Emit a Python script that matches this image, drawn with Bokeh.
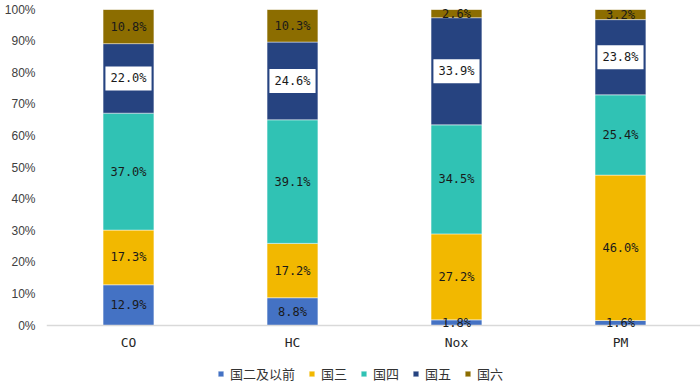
from bokeh.plotting import figure
from bokeh.models import (ColumnDataSource, Range1d, FixedTicker, PrintfTickFormatter,
                          Legend, LegendItem, LinearAxis)
from bokeh.core.properties import value
from bokeh.embed import file_html
from bokeh.resources import INLINE

categories = ["CO", "HC", "Nox", "PM"]
series = ["国二及以前", "国三", "国四", "国五", "国六"]
guo2 = [12.9, 8.8, 1.8, 1.6]
guo3 = [17.3, 17.2, 27.2, 46.0]
guo4 = [37.0, 39.1, 34.5, 25.4]
guo5 = [22.0, 24.6, 33.9, 23.8]
guo6 = [10.8, 10.3, 2.6, 3.2]
y_ticks = [0, 10, 20, 30, 40, 50, 60, 70, 80, 90, 100]

colors = ["#4472C4", "#F2B800", "#30C2B4", "#264380", "#8C6D00"]
values = [guo2, guo3, guo4, guo5, guo6]

xs = [i + 0.5 for i in range(len(categories))]
data = {"x": xs}
for name, vals in zip(series, values):
    data[name] = vals
src = ColumnDataSource(data)

p = figure(width=700, height=387, output_backend="svg", toolbar_location=None,
           x_range=Range1d(0, 3.988), y_range=Range1d(-19.6, 100),
           x_axis_location=None,
           min_border_left=46, min_border_right=0, min_border_top=9, min_border_bottom=0)
p.outline_line_color = None
p.xgrid.visible = False
p.ygrid.visible = False
p.background_fill_color = "white"

renderers = p.vbar_stack(series, x="x", width=0.31, color=colors, source=src,
                         line_color="white", line_alpha=0.45, line_width=1)

# data labels
cum = [0.0] * len(categories)
for name, vals in zip(series, values):
    mids = []
    for i, v in enumerate(vals):
        mids.append(cum[i] + v / 2)
        cum[i] += v
    lsrc = ColumnDataSource({"x": xs, "y": mids, "t": [f"{v:.1f}%" for v in vals]})
    kw = {}
    if name == "国五":
        kw = dict(background_fill_color="white", padding=5)
    p.text(x="x", y="y", text="t", source=lsrc, text_align="center",
           text_baseline="middle", text_font=value("DejaVu Sans Mono"),
           text_font_size="12px", text_color="#1a1a1a", level="overlay", **kw)

# y axis
p.yaxis.ticker = FixedTicker(ticks=y_ticks)
p.yaxis.formatter = PrintfTickFormatter(format="%d%%")
p.yaxis.axis_line_color = None
p.yaxis.major_tick_line_color = None
p.yaxis.minor_tick_line_color = None
p.yaxis.major_tick_out = 0
p.yaxis.major_tick_in = 0
p.yaxis.major_label_standoff = 11
p.yaxis.major_label_text_font = "Liberation Sans"
p.yaxis.major_label_text_font_size = "12px"
p.yaxis.major_label_text_color = "#404040"

# x axis fixed at y = 0
xaxis = LinearAxis(fixed_location=0)
xaxis.ticker = FixedTicker(ticks=xs)
xaxis.major_label_overrides = {x: c for x, c in zip(xs, categories)}
xaxis.axis_line_color = "#D9D9D9"
xaxis.axis_line_width = 1.5
xaxis.major_tick_line_color = None
xaxis.minor_tick_line_color = None
xaxis.major_tick_out = 0
xaxis.major_tick_in = 0
xaxis.major_label_standoff = 9
xaxis.major_label_text_font = "DejaVu Sans Mono"
xaxis.major_label_text_font_size = "13px"
xaxis.major_label_text_color = "#262626"
p.add_layout(xaxis, "below")

legend = Legend(items=[LegendItem(label=s, renderers=[r]) for s, r in zip(series, renderers)],
                location=(171, 3), orientation="horizontal",
                border_line_color=None, background_fill_alpha=0, padding=0, margin=0,
                label_text_font="Noto Sans CJK SC", label_text_font_size="13px",
                label_text_color="#333333", glyph_width=7, glyph_height=7,
                label_standoff=6, spacing=13, label_height=22)
p.add_layout(legend)

open("out.html", "w").write(file_html(p, INLINE))
